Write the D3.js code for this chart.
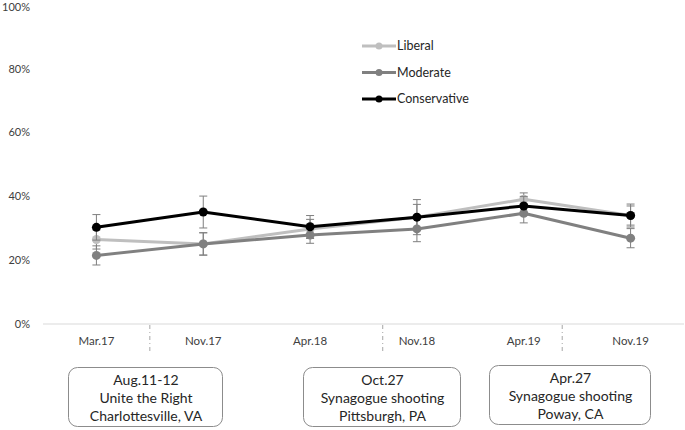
<!DOCTYPE html>
<html><head><meta charset="utf-8">
<script src="https://cdn.jsdelivr.net/npm/d3@7"></script>
<style>body{margin:0;background:#fff}svg{display:block;font-family:Lato,"Open Sans",sans-serif}</style>
</head><body><svg id="c" width="685" height="430"></svg>
<script>
const categories = ["Mar.17","Nov.17","Apr.18","Nov.18","Apr.19","Nov.19"];
const seriesNames = ["Liberal","Moderate","Conservative"];
const liberal = [26.5, 25.1, 29.8, 33.5, 39.1, 34.0];
const moderate = [21.5, 25.1, 27.9, 29.8, 34.7, 26.9];
const conservative = [30.3, 35.1, 30.5, 33.5, 37.0, 34.0];
const liberalErr = [3, 3.5, 3, 4, 2, 3];
const moderateErr = [3, 3.5, 2.6, 4, 3, 3];
const conservativeErr = [4, 5, 3.5, 5.5, 3, 3.6];
const yTicks = [0, 20, 40, 60, 80, 100];
const eventPos = [0.5, 2.68, 4.36];
const eventLines = [
  ["Aug.11-12","Unite the Right","Charlottesville, VA"],
  ["Oct.27","Synagogue shooting","Pittsburgh, PA"],
  ["Apr.27","Synagogue shooting","Poway, CA"]
];
const colors = ["#bfbfbf","#808080","#000000"];

const svg = d3.select("#c");
const x = d3.scalePoint().domain(categories).range([43,684]).padding(0.5);
const y = d3.scaleLinear().domain([0,100]).range([324,5]);
const step = x.step();
const xi = i => x(categories[0]) + i*step;

// y axis labels
svg.append("g").selectAll("text").data(yTicks).join("text")
  .attr("x",30).attr("y",d=>Math.max(y(d),7)).attr("dy","0.35em").attr("text-anchor","end")
  .attr("font-size",11).attr("fill","#404040").text(d=>d+"%");
// baseline
svg.append("line").attr("x1",43).attr("x2",684).attr("y1",y(0)).attr("y2",y(0))
  .attr("stroke","#d9d9d9").attr("stroke-width",1);
// category labels
svg.append("g").selectAll("text").data(categories).join("text")
  .attr("x",d=>x(d)).attr("y",341).attr("dy","0.35em").attr("text-anchor","middle")
  .attr("font-size",11.5).attr("fill","#404040").text(d=>d);

// event dashed lines + boxes
eventPos.forEach((p,i)=>{
  const ex = xi(p);
  svg.append("line").attr("x1",ex).attr("x2",ex).attr("y1",325).attr("y2",352)
    .attr("stroke","#a6a6a6").attr("stroke-dasharray","4,3,1,3");
});
const boxes = [[68,367,154,59],[303,367,157,59],[489,365,161,59]];
boxes.forEach((b,i)=>{
  svg.append("rect").attr("x",b[0]+0.5).attr("y",b[1]+0.5).attr("width",b[2]).attr("height",b[3])
    .attr("rx",9).attr("fill","#fff").attr("stroke","#8c8c8c");
  eventLines[i].forEach((t,j)=>{
    svg.append("text").attr("x",b[0]+b[2]/2+1).attr("y",b[1]+13+j*18).attr("dy","0.35em")
      .attr("text-anchor","middle").attr("font-size",14).attr("fill","#262626").text(t);
  });
});

const series = [
  {name:seriesNames[0], vals:liberal, err:liberalErr, color:colors[0]},
  {name:seriesNames[1], vals:moderate, err:moderateErr, color:colors[1]},
  {name:seriesNames[2], vals:conservative, err:conservativeErr, color:colors[2]}
];
const line = d3.line().x((d,i)=>x(categories[i])).y(d=>y(d));
series.forEach(s=>{
  const g = svg.append("g");
  s.vals.forEach((v,i)=>{
    const cx = x(categories[i]);
    g.append("line").attr("x1",cx).attr("x2",cx).attr("y1",y(v+s.err[i])).attr("y2",y(v-s.err[i]))
      .attr("stroke","#7f7f7f").attr("stroke-width",1);
    [v+s.err[i], v-s.err[i]].forEach(e=>{
      g.append("line").attr("x1",cx-4).attr("x2",cx+4).attr("y1",y(e)).attr("y2",y(e))
        .attr("stroke","#7f7f7f").attr("stroke-width",1);
    });
  });
  g.append("path").datum(s.vals).attr("d",line).attr("fill","none")
    .attr("stroke",s.color).attr("stroke-width",3).attr("stroke-linejoin","round");
  g.selectAll("circle").data(s.vals).join("circle")
    .attr("cx",(d,i)=>x(categories[i])).attr("cy",d=>y(d)).attr("r",4.5).attr("fill",s.color);
});

// legend
const lg = svg.append("g");
series.forEach((s,i)=>{
  const ly = 46 + i*26.5;
  lg.append("line").attr("x1",362).attr("x2",396).attr("y1",ly).attr("y2",ly)
    .attr("stroke",s.color).attr("stroke-width",3);
  lg.append("circle").attr("cx",379).attr("cy",ly).attr("r",3.5).attr("fill",s.color);
  lg.append("text").attr("x",397).attr("y",ly).attr("dy","0.35em").attr("font-size",12.5)
    .attr("fill","#262626").text(s.name);
});
</script></body></html>
